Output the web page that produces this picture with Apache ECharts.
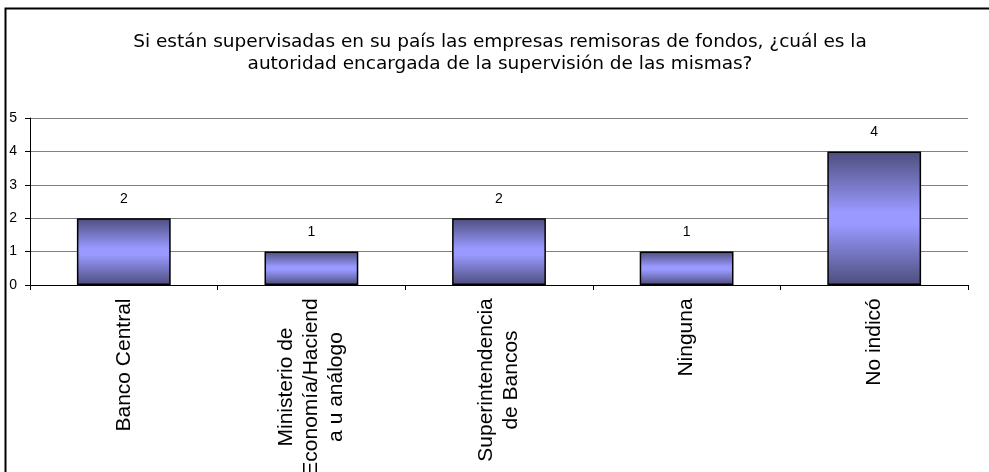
<!DOCTYPE html>
<html>
<head>
<meta charset="utf-8">
<script src="https://cdn.jsdelivr.net/npm/echarts@6/dist/echarts.min.js"></script>
<style>
  html, body { margin: 0; padding: 0; background: #fff; }
  #chart { width: 989px; height: 472px; }
</style>
</head>
<body>
<div id="chart"></div>
<script>
// datos
var titleText = 'Si están supervisadas en su país las empresas remisoras de fondos, ¿cuál es la\nautoridad encargada de la supervisión de las mismas?';
var categories = [
    'Banco Central',
    'Ministerio de\nEconomía/Haciend\na u análogo',
    'Superintendencia\nde Bancos',
    'Ninguna',
    'No indicó'
];
var counts = [2, 1, 2, 1, 4];
var yTicks = [0, 1, 2, 3, 4, 5];

var labelFont = '21px "Liberation Sans", Arial, sans-serif';

// ancho de la linea mas larga de cada etiqueta, para centrar las lineas
var measureCtx = document.createElement('canvas').getContext('2d');
measureCtx.font = labelFont;
function maxLineWidth(text) {
    var w = 0;
    text.split('\n').forEach(function (line) {
        w = Math.max(w, measureCtx.measureText(line).width);
    });
    return Math.ceil(w);
}

var rich = {};
categories.forEach(function (c, i) {
    rich['c' + i] = {
        width: maxLineWidth(c),
        align: 'center',
        fontSize: 21,
        lineHeight: 25,
        fontFamily: '"Liberation Sans", Arial, sans-serif',
        color: '#000'
    };
});

var chartDom = document.getElementById('chart');
var myChart = echarts.init(chartDom, null, { renderer: 'canvas' });

var option = {
    animation: false,
    backgroundColor: '#fff',
    title: {
        text: titleText,
        left: 495,
        top: 26,
        textAlign: 'center',
        textStyle: {
            fontFamily: '"DejaVu Sans", sans-serif',
            fontSize: 18.5,
            fontWeight: 'normal',
            lineHeight: 22,
            color: '#000'
        }
    },
    graphic: [{
        type: 'rect',
        shape: { x: 5.5, y: 8.5, width: 1200, height: 600 },
        style: { fill: null, stroke: '#000', lineWidth: 2 },
        silent: true
    }],
    grid: {
        left: 30,
        right: 21,
        top: 118,
        bottom: 187,
        outerBoundsMode: 'none'
    },
    xAxis: {
        type: 'category',
        data: categories,
        axisLine: { lineStyle: { color: '#000', width: 1 } },
        axisTick: { show: true, length: 5, lineStyle: { color: '#000' } },
        axisLabel: {
            rotate: 90,
            interval: 0,
            margin: 13,
            formatter: function (value, idx) {
                return value.split('\n').map(function (l) {
                    return '{c' + idx + '|' + l + '}';
                }).join('\n');
            },
            rich: rich
        }
    },
    yAxis: {
        type: 'value',
        min: yTicks[0],
        max: yTicks[yTicks.length - 1],
        interval: 1,
        axisLine: { show: true, lineStyle: { color: '#000', width: 1 } },
        axisTick: { show: true, length: 5, lineStyle: { color: '#000' } },
        axisLabel: {
            margin: 13,
            fontSize: 14,
            fontFamily: '"Liberation Sans", Arial, sans-serif',
            color: '#000'
        },
        splitLine: { show: true, lineStyle: { color: '#808080', width: 1 } }
    },
    series: [{
        type: 'bar',
        data: counts,
        barWidth: '50%',
        itemStyle: {
            color: new echarts.graphic.LinearGradient(0, 0, 0, 1, [
                { offset: 0, color: '#4d4d7d' },
                { offset: 0.45, color: '#9999ff' },
                { offset: 0.55, color: '#9999ff' },
                { offset: 1, color: '#4d4d7d' }
            ]),
            borderColor: '#000',
            borderWidth: 1.5
        },
        label: {
            show: true,
            position: 'top',
            distance: 12,
            fontSize: 14,
            fontFamily: '"Liberation Sans", Arial, sans-serif',
            color: '#000'
        }
    }]
};

myChart.setOption(option);
window.addEventListener('resize', myChart.resize);
</script>
</body>
</html>
